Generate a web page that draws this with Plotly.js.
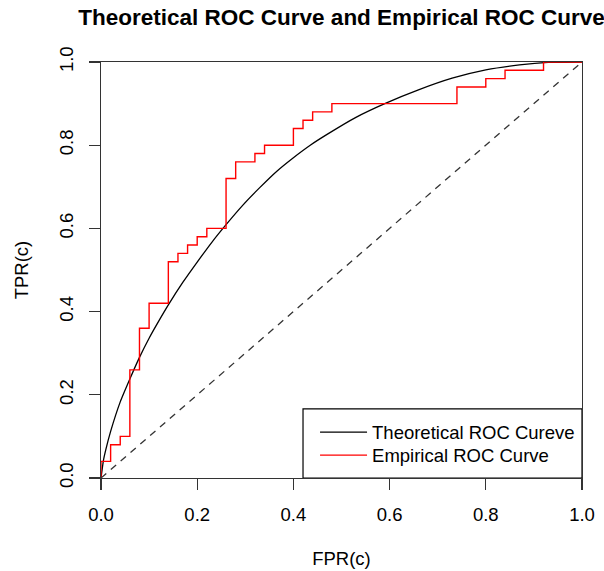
<!DOCTYPE html>
<html><head><meta charset="utf-8">
<script src="https://cdn.plot.ly/plotly-3.0.1.min.js"></script>
<style>html,body{margin:0;padding:0;background:#fff}</style>
</head><body>
<div id="chart" style="width:604px;height:571px"></div>
<script>
// Theoretical ROC curve
const theoFPR = [0, 0.005, 0.01, 0.02, 0.04, 0.06, 0.08, 0.10, 0.12, 0.14, 0.17, 0.20, 0.23, 0.26, 0.295, 0.33, 0.365, 0.40, 0.435, 0.47, 0.53, 0.59, 0.66, 0.73, 0.80, 0.87, 0.93, 1.0];
const theoTPR = [0, 0.042, 0.068, 0.112, 0.183, 0.238, 0.290, 0.336, 0.377, 0.416, 0.470, 0.519, 0.566, 0.609, 0.656, 0.698, 0.737, 0.770, 0.800, 0.826, 0.867, 0.900, 0.933, 0.961, 0.981, 0.993, 0.999, 1.0];
// Empirical ROC curve step points
const empFPR = [0, 0, 0.02, 0.04, 0.06, 0.08, 0.10, 0.14, 0.16, 0.18, 0.20, 0.22, 0.26, 0.28, 0.32, 0.34, 0.40, 0.42, 0.44, 0.48, 0.74, 0.80, 0.84, 0.92, 1.0];
const empTPR = [0, 0.04, 0.08, 0.10, 0.26, 0.36, 0.42, 0.52, 0.54, 0.56, 0.58, 0.60, 0.72, 0.76, 0.78, 0.80, 0.84, 0.86, 0.88, 0.90, 0.94, 0.96, 0.98, 1.0, 1.0];
// Chance line
const diagX = [0, 1];
const diagY = [0, 1];
const tickVals = [0, 0.2, 0.4, 0.6, 0.8, 1.0];
const tickText = ['0.0', '0.2', '0.4', '0.6', '0.8', '1.0'];

const FONT = 'Liberation Sans, Arial, Helvetica, sans-serif';

const traces = [
  {x: theoFPR, y: theoTPR, type: 'scatter', mode: 'lines', name: 'Theoretical ROC Cureve',
   legend: 'legend',
   line: {color: '#000000', width: 1.3, shape: 'spline', smoothing: 0.5}},
  {x: empFPR, y: empTPR, type: 'scatter', mode: 'lines', name: 'Empirical ROC Curve',
   legend: 'legend2',
   line: {color: '#ff0000', width: 1.4, shape: 'hv'}},
  {x: diagX, y: diagY, type: 'scatter', mode: 'lines', showlegend: false,
   line: {color: '#333333', width: 1.3, dash: '7px,6px'}}
];

const axisCommon = {
  range: [0, 1], tickvals: tickVals, ticktext: tickText,
  showgrid: false, zeroline: false, showline: true, mirror: true,
  linecolor: '#333333', linewidth: 1.3,
  ticks: 'outside', ticklen: 11, tickwidth: 1.2, tickcolor: '#333333',
  tickfont: {family: FONT, size: 18.5, color: '#000'},
  fixedrange: true
};

const legendCommon = {
  xanchor: 'left', yanchor: 'top',
  bgcolor: 'rgba(0,0,0,0)', borderwidth: 0,
  font: {family: FONT, size: 18.5, color: '#000'},
  itemwidth: 47
};

const layout = {
  width: 604, height: 571,
  margin: {l: 101, r: 22, t: 62, b: 93, pad: 0},
  paper_bgcolor: '#fff', plot_bgcolor: '#fff',
  title: {text: '<b>Theoretical ROC Curve and Empirical ROC Curve</b>',
          font: {family: FONT, size: 22.5, color: '#000'},
          x: 0.5654, xanchor: 'center', xref: 'container',
          y: 0.97, yanchor: 'middle', yref: 'container'},
  xaxis: Object.assign({}, axisCommon, {
    title: {text: 'FPR(c)', font: {family: FONT, size: 18.5, color: '#000'}, standoff: 28},
    ticklabelstandoff: 8
  }),
  yaxis: Object.assign({}, axisCommon, {
    tickangle: -90,
    title: {text: 'TPR(c)', font: {family: FONT, size: 18.5, color: '#000'}, standoff: 22},
    ticklabelstandoff: 8
  }),
  showlegend: true,
  legend: Object.assign({}, legendCommon, {x: 0.445, y: 0.1548}),
  legend2: Object.assign({}, legendCommon, {x: 0.445, y: 0.0995}),
  shapes: [
    {type: 'rect', xref: 'paper', yref: 'paper', x0: 0.42, x1: 1.0, y0: 0, y1: 0.166,
     line: {color: '#000', width: 1.2}, fillcolor: '#fff', layer: 'below'}
  ]
};

Plotly.newPlot('chart', traces, layout, {staticPlot: true, displayModeBar: false});
</script>
</body></html>
